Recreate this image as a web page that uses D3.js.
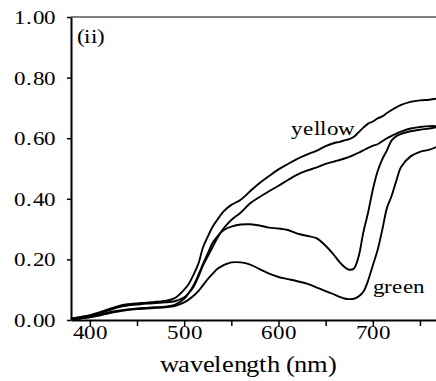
<!DOCTYPE html>
<html><head><meta charset="utf-8">
<script src="https://cdn.jsdelivr.net/npm/d3@7"></script>
<style>
@font-face{font-family:"RefSerif";src:local("Liberation Serif"),local("LiberationSerif"),local("LiberationSerif-Regular"),local("DejaVu Serif"),local("DejaVuSerif");}
html,body{margin:0;padding:0;background:#fff;}
svg{display:block;}
svg text{font-family:"RefSerif","Liberation Serif","DejaVu Serif",serif;fill:#000;}
</style></head>
<body>
<svg id="chart" width="436" height="381"></svg>
<script>
const wavelengths = [380,390,400,410,420,430,440,450,460,470,480,490,500,505,510,515,520,525,530,535,540,545,550,560,570,580,590,600,610,620,630,640,650,660,665,670,675,680,685,690,695,700,705,710,715,720,725,730,740,750,760,767];
const curveA = [0.005,0.010,0.016,0.025,0.036,0.046,0.052,0.055,0.057,0.060,0.063,0.072,0.100,0.120,0.150,0.185,0.240,0.275,0.307,0.330,0.352,0.368,0.380,0.397,0.425,0.452,0.475,0.497,0.515,0.532,0.546,0.558,0.574,0.585,0.588,0.593,0.597,0.605,0.620,0.635,0.648,0.655,0.665,0.672,0.683,0.693,0.702,0.710,0.720,0.725,0.727,0.730];
const curveB = [0.003,0.006,0.010,0.017,0.025,0.031,0.035,0.038,0.040,0.042,0.044,0.050,0.070,0.089,0.110,0.142,0.180,0.210,0.240,0.270,0.295,0.314,0.330,0.355,0.385,0.406,0.425,0.443,0.462,0.480,0.493,0.503,0.515,0.524,0.528,0.533,0.538,0.545,0.552,0.560,0.568,0.575,0.580,0.590,0.600,0.608,0.615,0.622,0.632,0.637,0.640,0.640];
const curveC = [0.004,0.009,0.014,0.022,0.032,0.042,0.048,0.051,0.054,0.056,0.058,0.062,0.075,0.090,0.115,0.148,0.185,0.220,0.254,0.275,0.292,0.302,0.308,0.315,0.316,0.312,0.305,0.302,0.297,0.285,0.278,0.270,0.245,0.210,0.190,0.175,0.166,0.170,0.210,0.290,0.355,0.430,0.490,0.530,0.560,0.593,0.607,0.614,0.623,0.628,0.632,0.636];
const curveD = [0.002,0.005,0.009,0.015,0.022,0.028,0.033,0.036,0.038,0.040,0.042,0.046,0.058,0.068,0.080,0.095,0.115,0.135,0.152,0.168,0.178,0.185,0.190,0.190,0.183,0.168,0.153,0.142,0.135,0.128,0.120,0.108,0.095,0.083,0.076,0.071,0.069,0.070,0.078,0.093,0.130,0.180,0.230,0.297,0.370,0.410,0.460,0.505,0.540,0.555,0.562,0.571];
const yTicks = [0,0.2,0.4,0.6,0.8,1.0];
const xTicks = [400,450,500,550,600,650,700,750];
const xLabelTicks = [400,500,600,700];
const labelYellow = "yellow";
const labelGreen = "green";
const panelLabel = "(ii)";
const xTitle = "wavelength (nm)";

const svg = d3.select("#chart");
const mLeft = 71, mRight = 436, mTop = 17, mBottom = 320;
const x = d3.scaleLinear().domain([380,767]).range([mLeft,mRight]);
const y = d3.scaleLinear().domain([0,1]).range([mBottom,mTop]);
const sx = 1.15;

// curves
const line = d3.line().x(d=>x(d[0])).y(d=>y(d[1])).curve(d3.curveCatmullRom.alpha(0.5));
[curveA,curveB,curveC,curveD].forEach(c=>{
  svg.append("path").datum(wavelengths.map((w,i)=>[w,c[i]]))
    .attr("d",line).attr("fill","none").attr("stroke","#000").attr("stroke-width",1.9);
});

// top frame line
svg.append("line").attr("x1",mLeft).attr("x2",mRight).attr("y1",mTop).attr("y2",mTop)
  .attr("stroke","#000").attr("stroke-width",1.2);

// y axis
const gy = svg.append("g").attr("transform",`translate(${mLeft},0)`)
  .call(d3.axisLeft(y).tickValues(yTicks).tickFormat(d3.format(".2f")).tickSize(4).tickSizeOuter(0).tickPadding(12));
gy.attr("font-family",null).attr("font-size",20);
gy.select(".domain").attr("stroke-width",2);
gy.selectAll(".tick line").attr("stroke-width",1.5);
gy.selectAll(".tick text").attr("transform",`scale(${sx},1)`).attr("x",-15/sx);

// x axis
const gx = svg.append("g").attr("transform",`translate(0,${mBottom})`)
  .call(d3.axisBottom(x).tickValues(xTicks).tickFormat(d=>xLabelTicks.includes(d)?d:"").tickSize(6).tickSizeOuter(0).tickPadding(-1));
gx.attr("font-family",null).attr("font-size",20);
gx.select(".domain").attr("stroke-width",2);
gx.selectAll(".tick line").attr("stroke-width",1.5);
gx.selectAll(".tick text").attr("transform",`scale(${sx},1)`);

// labels
function lbl(txt, px, py, size, anchor){
  svg.append("text").attr("transform",`translate(${px},${py}) scale(${sx},1)`)
    .attr("text-anchor",anchor||"start").attr("font-size",size).text(txt);
}
lbl(panelLabel, mLeft+6, 43, 20);
lbl(labelYellow, x(600)+13, y(0.61), 20);
lbl(labelGreen, x(702)-2, y(0.09), 20);
lbl(xTitle, 248, 372, 22.7, "middle");
</script>
</body></html>
